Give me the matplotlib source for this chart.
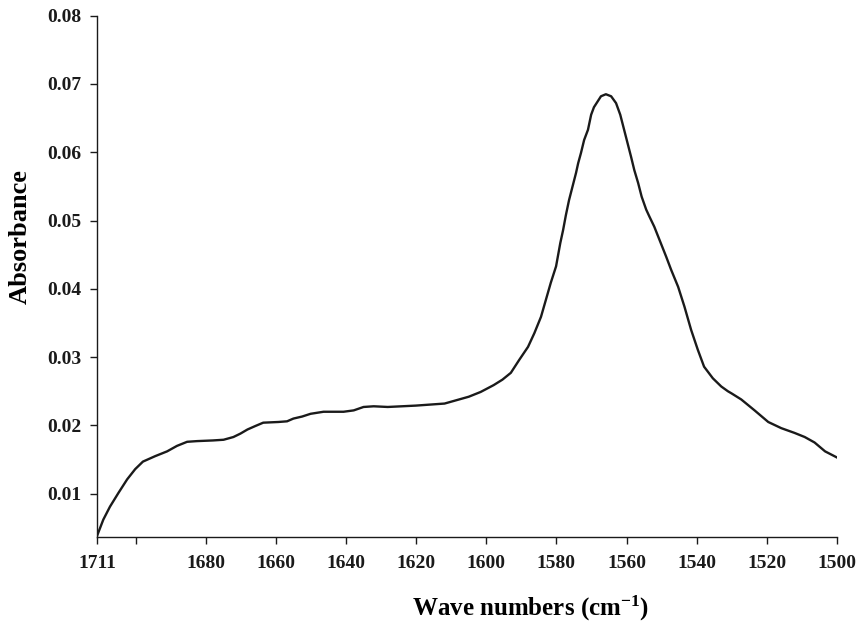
import matplotlib
matplotlib.use('Agg')
from matplotlib import pyplot as plt

wavenumber = [1711.0, 1709.2, 1707.3, 1704.9, 1702.4, 1700.1, 1697.9, 1694.4, 1691.0,
              1688.2, 1685.3, 1682.5, 1677.9, 1674.9, 1672.1, 1670.1, 1668.1, 1665.9,
              1663.6, 1659.3, 1656.8, 1655.0, 1652.5, 1650.1, 1646.4, 1643.5, 1640.7,
              1637.8, 1635.0, 1632.1, 1628.1, 1620.1, 1611.9, 1605.0, 1601.6, 1597.9,
              1595.4, 1593.0, 1590.6, 1588.1, 1586.3, 1584.4, 1583.0, 1581.6, 1580.1,
              1578.9, 1578.1, 1577.3, 1576.4, 1575.4, 1574.4, 1573.8, 1573.0, 1572.1,
              1571.0, 1570.1, 1569.3, 1567.8, 1567.3, 1565.9, 1564.4, 1563.0, 1561.8,
              1560.7, 1559.7, 1558.7, 1557.8, 1556.7, 1555.7, 1554.4, 1553.5, 1552.1,
              1550.4, 1548.7, 1547.3, 1545.3, 1543.5, 1541.6, 1539.7, 1537.9, 1535.4,
              1533.0, 1531.1, 1530.1, 1527.3, 1523.5, 1519.6, 1515.9, 1512.1, 1509.2,
              1506.4, 1503.4, 1500.0]
absorbance = [0.0038, 0.0062, 0.0081, 0.0101, 0.0121, 0.0136, 0.0147, 0.0155, 0.0162,
              0.0170, 0.0176, 0.0177, 0.0178, 0.0179, 0.0183, 0.0188, 0.0194, 0.0199,
              0.0204, 0.0205, 0.0206, 0.0210, 0.0213, 0.0217, 0.0220, 0.0220, 0.0220,
              0.0222, 0.0227, 0.0228, 0.0227, 0.0229, 0.0232, 0.0242, 0.0249, 0.0259,
              0.0267, 0.0277, 0.0296, 0.0315, 0.0335, 0.0359, 0.0384, 0.0409, 0.0433,
              0.0467, 0.0486, 0.0508, 0.0530, 0.0550, 0.0570, 0.0584, 0.0599, 0.0618,
              0.0633, 0.0655, 0.0666, 0.0678, 0.0682, 0.0685, 0.0682, 0.0672, 0.0655,
              0.0633, 0.0613, 0.0593, 0.0574, 0.0555, 0.0535, 0.0516, 0.0506, 0.0491,
              0.0469, 0.0447, 0.0428, 0.0403, 0.0374, 0.0340, 0.0311, 0.0286, 0.0269,
              0.0257, 0.0250, 0.0247, 0.0238, 0.0222, 0.0205, 0.0196, 0.0189, 0.0183,
              0.0175, 0.0162, 0.0153]

xticks = [1711, 1700, 1680, 1660, 1640, 1620, 1600, 1580, 1560, 1540, 1520, 1500]
xticklabels = ['1711', '', '1680', '1660', '1640', '1620', '1600', '1580', '1560',
               '1540', '1520', '1500']
yticks = [0.01, 0.02, 0.03, 0.04, 0.05, 0.06, 0.07, 0.08]

plt.rcParams['font.family'] = ['Liberation Serif', 'DejaVu Serif']
plt.rcParams['font.weight'] = 'bold'
plt.rcParams['mathtext.fontset'] = 'custom'
plt.rcParams['mathtext.rm'] = 'Liberation Serif:bold'
plt.rcParams['mathtext.bf'] = 'Liberation Serif:bold'
plt.rcParams['mathtext.default'] = 'bf'

fig = plt.figure(figsize=(8.56, 6.23), dpi=100)
ax = fig.add_axes([0.1133, 0.1385, 0.8645, 0.8363])

ax.plot(wavenumber, absorbance, color='#1a1a1a', linewidth=1.7, solid_joinstyle='round')

ax.set_xlim(1711, 1500)
ax.set_ylim(0.0037, 0.08)
ax.set_xticks(xticks)
ax.set_xticklabels(xticklabels)
ax.set_yticks(yticks)
ax.set_yticklabels([f'{v:.2f}' for v in yticks])
ax.tick_params(axis='both', direction='out', length=5, width=1, labelsize=14, colors='#1a1a1a')
ax.tick_params(axis='x', pad=8)
ax.tick_params(axis='y', pad=6)

for side in ['top', 'right']:
    ax.spines[side].set_visible(False)
for side in ['left', 'bottom']:
    ax.spines[side].set_linewidth(1)
    ax.spines[side].set_color('#1a1a1a')

ax.set_xlabel('Wave numbers (cm$^{-1}$)', fontsize=18, fontweight='bold', va='center')
ax.xaxis.set_label_coords(0.586, -0.137)
ax.set_ylabel('Absorbance', fontsize=19, fontweight='bold', va='center')
ax.yaxis.set_label_coords(-0.104, 0.577)

fig.savefig('out.png', dpi=100)
